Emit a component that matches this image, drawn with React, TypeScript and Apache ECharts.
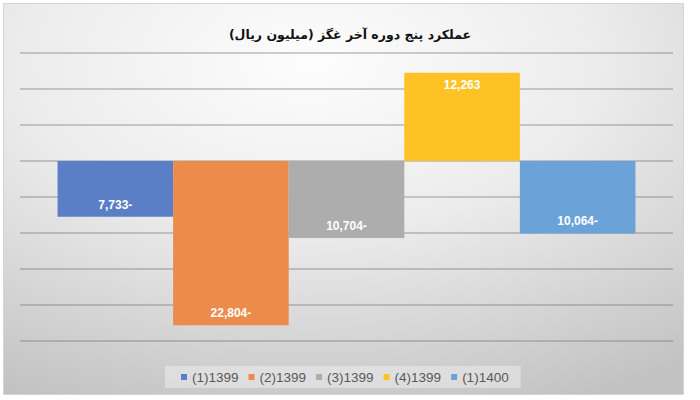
import React, { useEffect, useRef } from "react";
import * as echarts from "echarts";

const titleText = "عملکرد پنج دوره آخر غگز (میلیون ریال)";
const categories = ["عملکرد"];
const seriesNames = ["(1)1399", "(2)1399", "(3)1399", "(4)1399", "(1)1400"];
const seriesValues = [-7733, -22804, -10704, 12263, -10064];
const seriesColors = ["#5b7fc7", "#ec8c4c", "#adadad", "#fdc325", "#6ba3d8"];
const axisMin = -25000;
const axisMax = 15000;
const axisInterval = 5000;

function fmt(v: number): string {
  const s = Math.abs(v).toLocaleString("en-US");
  return v < 0 ? s + "-" : s;
}

export default function App() {
  const ref = useRef<HTMLDivElement>(null);
  useEffect(() => {
    if (!ref.current) return;
    const chart = echarts.init(ref.current, undefined, { renderer: "svg" });
    chart.setOption({
      animation: false,
      backgroundColor: "#ffffff",
      graphic: [
        {
          type: "rect",
          z: -10,
          silent: true,
          shape: { x: 3.5, y: 3.5, width: 680, height: 391 },
          style: {
            fill: new echarts.graphic.RadialGradient(0.45, 0.15, 0.95, [
              { offset: 0, color: "#fdfdfd" },
              { offset: 0.45, color: "#ececec" },
              { offset: 1, color: "#c2c2c2" },
            ]),
            stroke: "#d4d4d4",
            lineWidth: 1,
          },
        },
      ],
      title: {
        text: titleText,
        left: "center",
        top: 23,
        textStyle: {
          fontFamily: "DejaVu Sans",
          fontWeight: "bold",
          fontSize: 12.5,
          color: "#111111",
        },
      },
      legend: {
        data: seriesNames,
        left: 165,
        top: 366,
        padding: [4, 12, 4, 16],
        backgroundColor: "rgba(255,255,255,0.35)",
        itemWidth: 6,
        itemHeight: 6,
        itemGap: 10,
        icon: "rect",
        textStyle: {
          fontFamily: "Liberation Sans",
          fontSize: 13.5,
          color: "#595959",
        },
      },
      grid: { left: 20, right: 27, top: 53, bottom: 59, containLabel: false },
      xAxis: {
        type: "category",
        data: categories,
        axisLine: { show: false },
        axisTick: { show: false },
        axisLabel: { show: false },
      },
      yAxis: {
        type: "value",
        min: axisMin,
        max: axisMax,
        interval: axisInterval,
        axisLabel: { show: false },
        axisLine: { show: false },
        axisTick: { show: false },
        splitLine: { lineStyle: { color: "rgba(110,110,110,0.45)", width: 1.5 } },
      },
      series: seriesNames.map((name, i) => ({
        name,
        type: "bar",
        barGap: "0%",
        barCategoryGap: "11.5%",
        itemStyle: { color: seriesColors[i] },
        data: [
          {
            value: seriesValues[i],
            label: {
              show: true,
              position: seriesValues[i] < 0 ? "insideBottom" : "insideTop",
              distance: 6,
              formatter: (p: any) => fmt(p.value),
              color: "#ffffff",
              fontFamily: "Liberation Sans",
              fontWeight: "bold",
              fontSize: 12,
            },
          },
        ],
      })),
    });
    return () => chart.dispose();
  }, []);
  return (
    <div
      ref={ref}
      style={{ position: "fixed", left: 0, top: 0, width: 700, height: 400 }}
    />
  );
}
